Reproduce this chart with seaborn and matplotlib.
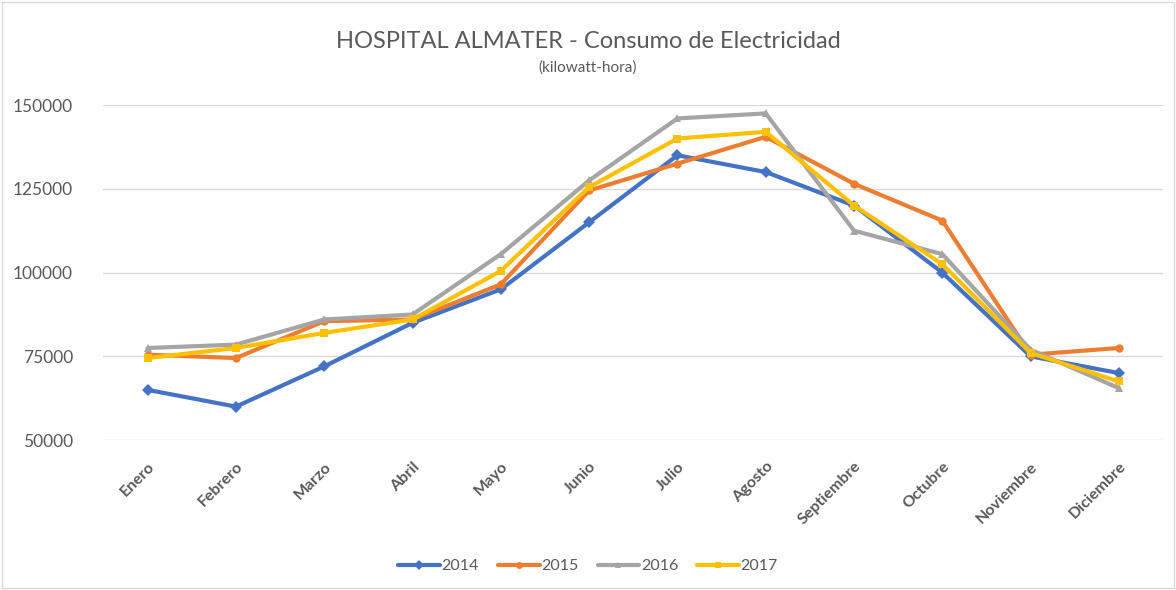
import matplotlib
matplotlib.use("Agg")
import matplotlib.pyplot as plt
import seaborn as sns
import pandas as pd
from matplotlib.patches import Rectangle

months = ["Enero", "Febrero", "Marzo", "Abril", "Mayo", "Junio", "Julio",
          "Agosto", "Septiembre", "Octubre", "Noviembre", "Diciembre"]
years = ["2014", "2015", "2016", "2017"]
v2014 = [65000, 60000, 72000, 85000, 95000, 115000, 135000, 130000, 120000, 100000, 75000, 70000]
v2015 = [75500, 74500, 85500, 86000, 96500, 124500, 132500, 140500, 126500, 115500, 75500, 77500]
v2016 = [77500, 78500, 86000, 87500, 105500, 127500, 146000, 147500, 112500, 105500, 77000, 65500]
v2017 = [74500, 77500, 82000, 86000, 100500, 125500, 140000, 142000, 120000, 102500, 76000, 67500]
yticks = [50000, 75000, 100000, 125000, 150000]

rows = []
for y, vals in zip(years, [v2014, v2015, v2016, v2017]):
    for m, v in zip(months, vals):
        rows.append({"Mes": m, "Año": y, "kWh": v})
df = pd.DataFrame(rows)

sns.set_theme(style="white")
plt.rcParams["font.family"] = ["Lato", "DejaVu Sans"]

palette = {"2014": "#4472C4", "2015": "#ED7D31", "2016": "#A5A5A5", "2017": "#FFC000"}
markers = {"2014": "D", "2015": "o", "2016": "^", "2017": "s"}

fig = plt.figure(figsize=(11.76, 5.9), dpi=100)
ax = fig.add_axes([0.088, 0.254, 0.901, 0.568])

sns.lineplot(data=df, x="Mes", y="kWh", hue="Año", style="Año",
             palette=palette, markers=markers, dashes=False,
             linewidth=3.0, markersize=6, markeredgewidth=0,
             sort=False, ax=ax, legend=True)

ax.set_xlim(-0.5, len(months) - 0.5)
ax.set_ylim(50000, 150000)
ax.set_yticks(yticks)
ax.set_yticklabels([str(t) for t in yticks], fontsize=12.5, color="#595959")
ax.yaxis.grid(True, color="#D9D9D9", linewidth=1)
ax.set_axisbelow(True)
for s in ax.spines.values():
    s.set_visible(False)
ax.tick_params(axis="both", length=0)
ax.tick_params(axis="y", pad=22)
ax.set_xlabel("")
ax.set_ylabel("")
ax.set_xticks(range(len(months)))
ax.set_xticklabels(months, rotation=45, ha="right", rotation_mode="anchor",
                   fontsize=11.5, fontweight="bold", color="#595959")
ax.tick_params(axis="x", pad=14)

handles, labels = ax.get_legend_handles_labels()
ax.legend_.remove()
for h in handles:
    h.set_markersize(5)
leg = fig.legend(handles, labels, loc="center", bbox_to_anchor=(0.5, 0.04),
                 ncol=4, frameon=False, fontsize=11.5, handlelength=2.6,
                 handletextpad=0.1, columnspacing=1.2)
for t in leg.get_texts():
    t.set_color("#595959")

fig.text(0.5, 0.93, "HOSPITAL ALMATER - Consumo de Electricidad",
         ha="center", va="center", fontsize=17, color="#595959")
fig.text(0.5, 0.885, "(kilowatt-hora)", ha="center", va="center",
         fontsize=11, color="#595959")

fig.patches.append(Rectangle((0.002, 0.003), 0.996, 0.994, transform=fig.transFigure,
                             fill=False, edgecolor="#D9D9D9", linewidth=1))

fig.savefig("out.png", dpi=100, facecolor="white")
